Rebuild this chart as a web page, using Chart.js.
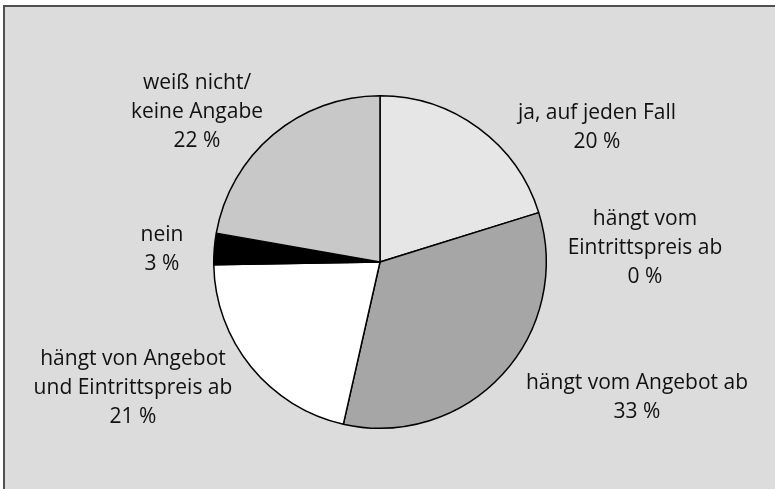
<!DOCTYPE html>
<html lang="de">
<head>
    <meta charset="UTF-8">
    <title>Pie chart</title>
    <script src="https://cdn.jsdelivr.net/npm/chart.js"></script>
    <style>
        html, body { margin: 0; padding: 0; background: #ffffff; }
        #wrap { width: 775px; height: 489px; position: relative; }
    </style>
</head>
<body>
    <div id="wrap"><canvas id="pieChart" width="775" height="489"></canvas></div>
    <script>
        // categories and values (in %)
        const categories = [
            ['ja, auf jeden Fall'],
            ['hängt vom', 'Eintrittspreis ab'],
            ['hängt vom Angebot ab'],
            ['hängt von Angebot', 'und Eintrittspreis ab'],
            ['nein'],
            ['weiß nicht/', 'keine Angabe']
        ];
        const values = [20, 0, 33, 21, 3, 22];
        const sliceColors = ['#e6e6e6', '#bdbdbd', '#a6a6a6', '#ffffff', '#000000', '#c8c8c8'];

        // label placement relative to the pie centre
        const labelOffsets = [[217, -134], [265, -14], [257, 136], [-247, 126], [-218, -12], [-183, -150]];

        const framePlugin = {
            id: 'frame',
            beforeDraw(chart) {
                const ctx = chart.ctx;
                ctx.save();
                ctx.fillStyle = '#ffffff';
                ctx.fillRect(0, 0, chart.width, chart.height);
                ctx.fillStyle = '#dcdcdc';
                ctx.fillRect(3, 5, chart.width - 3, chart.height - 5);
                ctx.fillStyle = '#505050';
                ctx.fillRect(3, 5, chart.width - 3, 2);
                ctx.fillRect(3, 5, 2, chart.height - 5);
                ctx.restore();
            }
        };

        const labelPlugin = {
            id: 'sliceLabels',
            afterDraw(chart) {
                const ctx = chart.ctx;
                const arc = chart.getDatasetMeta(0).data[0];
                const cx = arc.x, cy = arc.y;
                ctx.save();
                ctx.fillStyle = '#111111';
                ctx.font = '21px "Open Sans"';
                ctx.textAlign = 'center';
                ctx.textBaseline = 'middle';
                const lh = 29;
                categories.forEach((lines, i) => {
                    const all = lines.concat([values[i] + ' %']);
                    const x = cx + labelOffsets[i][0];
                    const y0 = cy + labelOffsets[i][1] - (all.length - 1) * lh / 2;
                    all.forEach((t, j) => ctx.fillText(t, x, y0 + j * lh));
                });
                ctx.restore();
            }
        };

        new Chart(document.getElementById('pieChart'), {
            type: 'pie',
            data: {
                labels: categories.map(c => c.join(' ')),
                datasets: [{
                    data: values,
                    backgroundColor: sliceColors,
                    borderColor: '#000000',
                    borderWidth: 1.5
                }]
            },
            options: {
                responsive: false,
                animation: false,
                layout: { padding: { top: 95, bottom: 60, left: 0, right: 15 } },
                plugins: {
                    legend: { display: false },
                    tooltip: { enabled: false }
                }
            },
            plugins: [framePlugin, labelPlugin]
        });
    </script>
</body>
</html>
